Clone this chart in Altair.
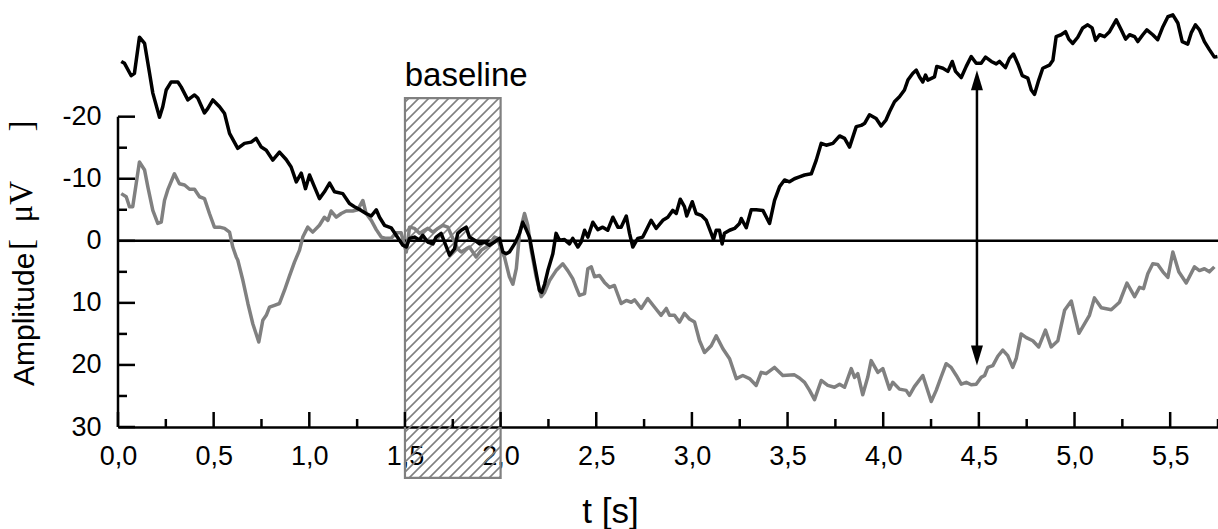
import altair as alt
import pandas as pd

# ---------------- data ----------------
BLACK_T = [0.017, 0.034, 0.069, 0.086, 0.112, 0.139, 0.165, 0.182, 0.217, 0.234, 0.252, 0.278, 0.313, 0.330,
           0.365, 0.400, 0.417, 0.452, 0.469, 0.496, 0.531, 0.557, 0.583, 0.626, 0.661, 0.696, 0.722, 0.749,
           0.775, 0.809, 0.844, 0.879, 0.905, 0.932, 0.958, 0.980, 1.001, 1.027, 1.053, 1.079, 1.106, 1.132,
           1.175, 1.210, 1.236, 1.271, 1.297, 1.324, 1.350, 1.367, 1.393, 1.428, 1.454, 1.489, 1.507, 1.524,
           1.550, 1.576, 1.593, 1.619, 1.646, 1.663, 1.689, 1.707, 1.733, 1.759, 1.776, 1.794, 1.820, 1.837,
           1.864, 1.890, 1.916, 1.942, 1.968, 1.994, 2.012, 2.029, 2.046, 2.073, 2.099, 2.116, 2.134, 2.151,
           2.177, 2.203, 2.215, 2.230, 2.247, 2.273, 2.290, 2.308, 2.334, 2.360, 2.377, 2.404, 2.421, 2.439,
           2.456, 2.482, 2.508, 2.534, 2.560, 2.587, 2.613, 2.630, 2.657, 2.674, 2.691, 2.717, 2.743, 2.761,
           2.787, 2.813, 2.848, 2.874, 2.900, 2.918, 2.939, 2.961, 2.973, 3.002, 3.022, 3.049, 3.075, 3.101,
           3.113, 3.127, 3.144, 3.158, 3.170, 3.197, 3.223, 3.249, 3.258, 3.284, 3.310, 3.336, 3.371, 3.406,
           3.432, 3.458, 3.484, 3.510, 3.536, 3.562, 3.589, 3.624, 3.650, 3.676, 3.702, 3.737, 3.772, 3.798,
           3.824, 3.859, 3.885, 3.902, 3.928, 3.963, 3.989, 4.015, 4.033, 4.059, 4.085, 4.111, 4.129, 4.155,
           4.173, 4.190, 4.207, 4.221, 4.233, 4.268, 4.280, 4.312, 4.338, 4.361, 4.378, 4.408, 4.434, 4.460,
           4.486, 4.512, 4.535, 4.565, 4.591, 4.608, 4.639, 4.660, 4.681, 4.704, 4.727, 4.756, 4.774, 4.791,
           4.813, 4.834, 4.869, 4.887, 4.904, 4.930, 4.953, 4.970, 4.991, 5.017, 5.043, 5.069, 5.092, 5.110,
           5.131, 5.157, 5.183, 5.218, 5.244, 5.267, 5.288, 5.314, 5.331, 5.357, 5.378, 5.409, 5.435, 5.462,
           5.488, 5.514, 5.540, 5.563, 5.592, 5.610, 5.632, 5.653, 5.679, 5.705, 5.731, 5.747]
BLACK_V = [-28.9, -28.6, -26.6, -27.0, -32.8, -31.8, -27.0, -23.8, -19.9, -21.6, -24.3, -25.6, -25.6, -24.8,
           -22.7, -23.5, -23.0, -20.6, -21.3, -22.7, -21.6, -20.5, -17.3, -14.9, -15.7, -15.9, -16.5, -15.1,
           -14.6, -13.0, -14.3, -13.1, -11.9, -9.5, -10.9, -8.4, -10.6, -8.7, -6.8, -7.9, -9.3, -7.9,
           -7.6, -6.0, -5.5, -4.9, -4.4, -4.0, -5.0, -3.8, -2.5, -2.1, -0.9, 0.7, 1.0, -0.4,
           -0.6, -0.1, -0.9, 0.2, 0.5, -0.6, -1.2, 0.2, 2.3, 1.3, -1.2, -1.7, -2.2, -0.6,
           -0.1, 0.5, 0.2, 0.7, 0.2, -0.4, 1.8, 2.1, 1.8, 0.5, -1.2, -3.0, -1.8, -0.6,
           3.7, 8.0, 8.3, 7.0, 4.8, 2.1, -1.2, -0.1, -0.2, 0.5, -0.4, 1.0, 0.2, -1.7,
           -0.6, -3.0, -1.8, -2.2, -1.7, -3.8, -2.2, -2.2, -4.0, -1.2, 1.0, -0.4, -0.6, -1.7,
           -3.3, -2.0, -3.3, -3.8, -4.9, -4.4, -6.7, -5.5, -4.0, -6.3, -4.4, -4.1, -3.3, -1.2,
           -0.2, -1.7, -1.7, 0.5, -1.2, -1.7, -2.0, -2.8, -3.6, -2.1, -5.0, -5.0, -4.9, -2.8,
           -6.5, -8.7, -9.8, -9.5, -10.0, -10.3, -10.6, -10.8, -13.0, -15.7, -15.4, -15.7, -16.9, -16.5,
           -15.1, -18.4, -18.6, -18.9, -20.3, -19.7, -18.5, -19.5, -20.8, -22.4, -23.2, -24.3, -25.9, -27.0,
           -27.5, -26.4, -25.6, -26.7, -25.9, -26.4, -28.1, -27.8, -27.3, -28.9, -27.3, -26.3, -28.1, -29.7,
           -28.6, -28.6, -29.6, -28.9, -28.5, -28.9, -27.9, -29.4, -30.1, -28.5, -26.6, -26.2, -24.3, -23.6,
           -25.9, -27.8, -28.3, -29.1, -32.9, -33.2, -33.7, -32.5, -31.8, -32.8, -34.3, -34.8, -34.3, -32.3,
           -33.2, -32.9, -33.7, -35.6, -34.0, -32.5, -33.2, -32.9, -32.1, -33.2, -34.0, -33.2, -32.4, -34.5,
           -36.1, -36.4, -35.1, -32.1, -31.7, -33.5, -34.8, -34.0, -32.1, -30.8, -29.6, -29.7]

GRAY_T = [0.017, 0.043, 0.060, 0.077, 0.095, 0.112, 0.139, 0.156, 0.182, 0.208, 0.226, 0.243, 0.260, 0.295,
          0.321, 0.348, 0.374, 0.400, 0.426, 0.452, 0.478, 0.504, 0.531, 0.557, 0.583, 0.600, 0.618, 0.626,
          0.653, 0.679, 0.705, 0.736, 0.757, 0.775, 0.792, 0.818, 0.844, 0.870, 0.897, 0.923, 0.949, 0.966,
          0.992, 1.018, 1.053, 1.079, 1.097, 1.114, 1.141, 1.167, 1.193, 1.227, 1.253, 1.280, 1.297, 1.324,
          1.350, 1.376, 1.402, 1.428, 1.454, 1.480, 1.507, 1.524, 1.550, 1.576, 1.602, 1.620, 1.646, 1.672,
          1.698, 1.724, 1.750, 1.776, 1.794, 1.820, 1.837, 1.872, 1.899, 1.925, 1.942, 1.968, 1.985, 2.003,
          2.020, 2.046, 2.064, 2.082, 2.099, 2.125, 2.142, 2.160, 2.186, 2.212, 2.230, 2.256, 2.290, 2.325,
          2.351, 2.377, 2.395, 2.412, 2.439, 2.456, 2.474, 2.491, 2.517, 2.543, 2.569, 2.595, 2.630, 2.657,
          2.683, 2.700, 2.735, 2.769, 2.805, 2.839, 2.866, 2.883, 2.909, 2.935, 2.961, 2.987, 3.014, 3.040,
          3.066, 3.101, 3.127, 3.162, 3.197, 3.232, 3.266, 3.301, 3.336, 3.362, 3.388, 3.432, 3.475, 3.536,
          3.562, 3.589, 3.615, 3.641, 3.676, 3.710, 3.745, 3.772, 3.798, 3.833, 3.850, 3.867, 3.893, 3.919,
          3.937, 3.972, 3.998, 4.033, 4.050, 4.085, 4.120, 4.137, 4.163, 4.207, 4.251, 4.277, 4.303, 4.329,
          4.355, 4.382, 4.408, 4.434, 4.460, 4.486, 4.512, 4.530, 4.547, 4.573, 4.599, 4.625, 4.651, 4.677,
          4.695, 4.721, 4.748, 4.782, 4.813, 4.848, 4.878, 4.913, 4.948, 4.983, 5.023, 5.052, 5.078, 5.104,
          5.140, 5.192, 5.235, 5.274, 5.314, 5.340, 5.361, 5.383, 5.409, 5.435, 5.462, 5.488, 5.514, 5.545,
          5.584, 5.627, 5.653, 5.679, 5.705, 5.731]
GRAY_V = [-7.6, -7.1, -5.5, -5.5, -9.2, -12.7, -11.4, -8.7, -4.9, -2.8, -3.0, -6.5, -8.2, -10.8,
          -9.2, -9.0, -8.3, -8.3, -7.1, -6.8, -4.4, -2.2, -2.2, -2.0, -1.4, 1.0, 2.6, 3.1,
          6.4, 10.1, 13.4, 16.3, 12.8, 12.0, 10.7, 10.4, 10.1, 8.0, 5.6, 3.4, 1.5, -0.6,
          -2.2, -1.4, -2.5, -3.8, -3.3, -4.8, -3.8, -4.4, -4.8, -4.8, -5.0, -6.5, -4.4, -3.3,
          -1.8, -0.6, -0.4, -0.4, -1.3, -1.3, 1.8, -2.2, -2.0, -1.2, -1.7, -2.0, -1.4, -2.0,
          -2.5, -2.2, -0.4, 1.3, 1.8, 1.3, 1.0, 2.6, 1.5, 1.0, 0.5, -0.6, -0.4, 1.5,
          2.6, 5.8, 7.0, 4.5, -1.2, -4.4, -2.5, 1.5, 5.8, 9.0, 8.3, 6.4, 4.8, 3.7,
          4.8, 6.1, 7.5, 8.8, 8.5, 4.5, 4.2, 5.8, 5.6, 6.7, 7.5, 7.2, 10.1, 9.6,
          9.9, 9.5, 10.9, 9.3, 10.7, 12.0, 10.9, 12.0, 12.0, 13.1, 11.7, 12.6, 13.1, 16.1,
          18.0, 16.9, 15.3, 17.4, 19.0, 22.2, 21.7, 22.2, 23.3, 21.2, 21.4, 20.4, 21.7, 21.6,
          22.1, 22.8, 24.1, 25.6, 22.5, 23.3, 23.6, 23.1, 23.6, 20.6, 22.0, 21.4, 24.8, 22.0,
          19.3, 21.2, 20.6, 23.9, 22.8, 23.9, 24.1, 24.9, 23.5, 21.7, 25.9, 24.1, 21.9, 19.8,
          20.4, 21.7, 23.1, 22.8, 23.2, 23.1, 22.0, 21.7, 20.4, 20.1, 18.6, 17.6, 18.5, 20.4,
          19.0, 15.0, 15.6, 16.1, 17.1, 14.4, 17.1, 16.1, 11.2, 9.7, 14.9, 13.4, 12.0, 9.2,
          10.8, 11.1, 9.9, 6.8, 9.0, 7.5, 7.7, 5.3, 3.7, 3.8, 5.0, 5.9, 1.8, 5.0,
          6.8, 4.2, 4.8, 4.5, 5.0, 4.2]

X_LABEL_VALUES = [0.0, 0.5, 1.0, 1.5, 2.0, 2.5, 3.0, 3.5, 4.0, 4.5, 5.0, 5.5]
X_MINOR_VALUES = [0.25, 0.75, 1.25, 1.75, 2.25, 2.75, 3.25, 3.75, 4.25, 4.75, 5.25, 5.75]
Y_LABEL_VALUES = [-20, -10, 0, 10, 20, 30]
Y_MINOR_VALUES = [-15, -5, 5, 15, 25]
Y_AXIS_SPAN = [-20, 30]

BASELINE_T = [1.5, 2.0]
BASELINE_V = [-23.0, 38.2]
BASELINE_LABEL = "baseline"
BASELINE_LABEL_POS = [1.82, -24.9]

ARROW_T = 4.49
ARROW_V = [-27.5, 20.1]

Y_TITLE_MAIN = "Amplitude"
Y_TITLE_UNIT = "[\u2002\u03bcV\u2003\u2002]"

X_DOMAIN = [0.0, 5.75]
Y_DOMAIN = [-38.8, 30.0]

W, H = 1100, 427
FONT = "Liberation Sans"
GRAY = "#808080"

# ---------------- helpers ----------------
xs = alt.Scale(domain=X_DOMAIN, nice=False, zero=False)
ys = alt.Scale(domain=Y_DOMAIN, reverse=True, nice=False, zero=False)

x_axis = alt.Axis(values=X_LABEL_VALUES, labelExpr="replace(format(datum.value, '.1f'), '.', ',')",
                  domain=True, domainColor="black", domainWidth=2.5, ticks=False, tickSize=0, grid=False,
                  labelFont=FONT, labelFontSize=27, labelColor="black", labelPadding=16, labelFlush=False,
                  labelOverlap=False,
                  title="t [s]", titleFont=FONT, titleFontSize=35, titleFontWeight="normal",
                  titleColor="black", titleX=492, titleY=95, titleAlign="center",
                  titleBaseline="alphabetic", titleAnchor="start")
y_axis = alt.Axis(values=Y_LABEL_VALUES, labelExpr="'' + datum.value", domain=False, ticks=False,
                  tickSize=0, grid=False, labelFont=FONT, labelFontSize=27, labelColor="black",
                  labelPadding=17, labelFlush=False, labelOverlap=False, title="")


def X(field):
    return alt.X(field, type="quantitative", scale=xs, axis=x_axis, title="t [s]")


def Y(field):
    return alt.Y(field, type="quantitative", scale=ys, axis=y_axis, title="")


gray_df = pd.DataFrame({"t": GRAY_T, "v": GRAY_V})
black_df = pd.DataFrame({"t": BLACK_T, "v": BLACK_V})

# hatch lines derived from the baseline rectangle (45 degree, 10 px apart)
ppt = W / (X_DOMAIN[1] - X_DOMAIN[0])
ppv = H / (Y_DOMAIN[1] - Y_DOMAIN[0])
X0 = (BASELINE_T[0] - X_DOMAIN[0]) * ppt
X1 = (BASELINE_T[1] - X_DOMAIN[0]) * ppt
Y0 = (BASELINE_V[0] - Y_DOMAIN[0]) * ppv
Y1 = (BASELINE_V[1] - Y_DOMAIN[0]) * ppv
STEP = 10.0
rows = []
c = X0 + Y0 + 4.0
while c < X1 + Y1:
    xa = max(X0, c - Y1)
    xb = min(X1, c - Y0)
    if xb > xa:
        rows.append({"t": X_DOMAIN[0] + xa / ppt, "v": Y_DOMAIN[0] + (c - xa) / ppv,
                     "t2": X_DOMAIN[0] + xb / ppt, "v2": Y_DOMAIN[0] + (c - xb) / ppv})
    c += STEP
hatch_df = pd.DataFrame(rows)

hatch = alt.Chart(hatch_df).mark_rule(color=GRAY, strokeWidth=1.6).encode(
    x=X("t"), x2="t2:Q", y=Y("v"), y2="v2:Q")

rect_df = pd.DataFrame({"t": [BASELINE_T[0]], "t2": [BASELINE_T[1]],
                        "v": [BASELINE_V[0]], "v2": [BASELINE_V[1]]})
rect = alt.Chart(rect_df).mark_rect(filled=False, stroke=GRAY, strokeWidth=2.2).encode(
    x=X("t"), x2="t2:Q", y=Y("v"), y2="v2:Q")

zero_df = pd.DataFrame({"t": [X_DOMAIN[0]], "t2": [X_DOMAIN[1]], "v": [0]})
zero = alt.Chart(zero_df).mark_rule(color="black", strokeWidth=2.5).encode(
    x=X("t"), x2="t2:Q", y=Y("v"))

gray_line = alt.Chart(gray_df).mark_line(color=GRAY, strokeWidth=3.5, strokeJoin="round").encode(
    x=X("t"), y=Y("v"))

black_line = alt.Chart(black_df).mark_line(color="black", strokeWidth=3.5, strokeJoin="round").encode(
    x=X("t"), y=Y("v"))

yaxis_line = alt.Chart(pd.DataFrame({"t": [X_DOMAIN[0]], "v": [Y_AXIS_SPAN[0]], "v2": [Y_AXIS_SPAN[1]]})).mark_rule(
    color="black", strokeWidth=2.5).encode(x=X("t"), y=Y("v"), y2="v2:Q")

xmaj = alt.Chart(pd.DataFrame({"t": X_LABEL_VALUES, "v": [Y_DOMAIN[1]] * len(X_LABEL_VALUES)})).mark_rule(
    color="black", strokeWidth=2.5, y2Offset=-15).encode(x=X("t"), y=Y("v"), y2="v:Q")
xmin = alt.Chart(pd.DataFrame({"t": X_MINOR_VALUES, "v": [Y_DOMAIN[1]] * len(X_MINOR_VALUES)})).mark_rule(
    color="black", strokeWidth=2.5, y2Offset=-8).encode(x=X("t"), y=Y("v"), y2="v:Q")
ymaj = alt.Chart(pd.DataFrame({"v": Y_LABEL_VALUES, "t": [X_DOMAIN[0]] * len(Y_LABEL_VALUES)})).mark_rule(
    color="black", strokeWidth=2.5, x2Offset=17).encode(y=Y("v"), x=X("t"), x2="t:Q")
ymin = alt.Chart(pd.DataFrame({"v": Y_MINOR_VALUES, "t": [X_DOMAIN[0]] * len(Y_MINOR_VALUES)})).mark_rule(
    color="black", strokeWidth=2.5, x2Offset=9).encode(y=Y("v"), x=X("t"), x2="t:Q")

arrow_df = pd.DataFrame({"t": [ARROW_T], "v": [ARROW_V[0] + 1.5], "v2": [ARROW_V[1] - 1.5]})
arrow_line = alt.Chart(arrow_df).mark_rule(color="black", strokeWidth=2.5).encode(
    x=X("t"), y=Y("v"), y2="v2:Q")
head_up = alt.Chart(pd.DataFrame({"t": [ARROW_T], "v": [ARROW_V[0]]})).mark_point(
    shape="M0,0L0.6,2L-0.6,2Z", size=400, filled=True, color="black", opacity=1, strokeWidth=0).encode(
    x=X("t"), y=Y("v"))
head_down = alt.Chart(pd.DataFrame({"t": [ARROW_T], "v": [ARROW_V[1]]})).mark_point(
    shape="M0,0L0.6,-2L-0.6,-2Z", size=400, filled=True, color="black", opacity=1, strokeWidth=0).encode(
    x=X("t"), y=Y("v"))

label = alt.Chart(pd.DataFrame({"t": [BASELINE_LABEL_POS[0]], "v": [BASELINE_LABEL_POS[1]],
                                "s": [BASELINE_LABEL]})).mark_text(
    font=FONT, fontSize=33, color="black", align="center", baseline="alphabetic").encode(
    x=X("t"), y=Y("v"), text="s:N")

ytitle1 = alt.Chart(pd.DataFrame({"s": [Y_TITLE_MAIN]})).mark_text(
    font=FONT, fontSize=30, color="black", align="left", baseline="alphabetic", angle=270).encode(
    text="s:N", x=alt.value(-84.5), y=alt.value(386))
ytitle2 = alt.Chart(pd.DataFrame({"s": [Y_TITLE_UNIT]})).mark_text(
    font="Liberation Serif", fontSize=33, color="black", align="left", baseline="alphabetic", angle=270).encode(
    text="s:N", x=alt.value(-86), y=alt.value(250))

chart = alt.layer(
    hatch, rect, zero, gray_line, black_line, yaxis_line, xmaj, xmin, ymaj, ymin,
    arrow_line, head_up, head_down, label, ytitle1, ytitle2
).properties(
    width=W, height=H,
    autosize=alt.AutoSizeParams(type="none"),
    padding={"left": 118, "top": 0, "right": 0, "bottom": 102},
    background="white"
).configure_view(stroke=None)

chart.save("out.html", embed_options={"renderer": "svg", "actions": False})
